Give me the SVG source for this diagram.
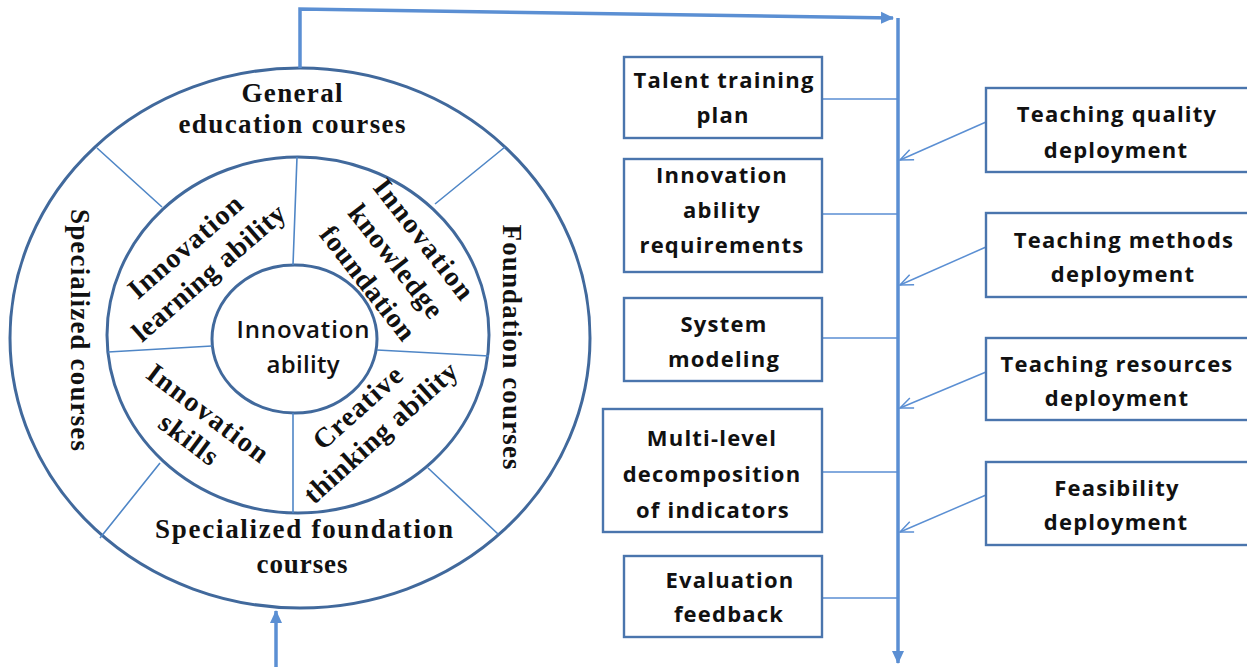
<svg xmlns="http://www.w3.org/2000/svg" width="1247" height="667" viewBox="0 0 1247 667">
<defs>
<style>
.ring{fill:none;stroke:#41699c;stroke-width:3}
.div{fill:none;stroke:#4f86c6;stroke-width:1.6}
.box{fill:#fff;stroke:#4a75ad;stroke-width:2.4}
.thick{fill:none;stroke:#5b8fd3;stroke-width:3.5}
.thin{fill:none;stroke:#5b8fd3;stroke-width:1.5}
.ser{font-family:"Liberation Serif","Times New Roman",serif;font-weight:bold;font-size:27px;fill:#111;text-anchor:middle}
.rot{font-size:28px}
.san{font-family:"Open Sans","Liberation Sans",sans-serif;font-weight:bold;font-size:22px;letter-spacing:1.2px;fill:#111;text-anchor:middle}
.ctr{font-family:"Open Sans","Liberation Sans",sans-serif;font-weight:600;font-size:24px;fill:#111;text-anchor:middle}
</style>
<marker id="fa" markerUnits="userSpaceOnUse" markerWidth="14" markerHeight="14" viewBox="0 0 14 14" refX="12" refY="7" orient="auto">
<path d="M0,1 L13,7 L0,13 Z" fill="#5b8fd3"/>
</marker>
<marker id="oa" markerUnits="userSpaceOnUse" markerWidth="16" markerHeight="14" viewBox="0 0 16 14" refX="14" refY="7" orient="auto">
<path d="M1,1.5 L14,7 L1,12.5" fill="none" stroke="#5b8fd3" stroke-width="1.5"/>
</marker>
</defs>
<rect width="1247" height="667" fill="#fff"/>

<g id="wheel">
<ellipse class="ring" cx="300" cy="338" rx="290" ry="270"/>
<ellipse class="ring" cx="298" cy="335" rx="191" ry="178"/>
<ellipse class="ring" cx="294.5" cy="339" rx="82.5" ry="74"/>
<path class="div" d="M97,148 L162,207 M505,147 L435,204 M100,538 L160,463 M498,534 L428,468 M297,157 L293,265 M293,413 L293,513 M108,352 L212,346 M377,350 L489,356"/>
</g>

<g id="ring-outer-labels">
<text class="ser" x="292" y="102" textLength="101" lengthAdjust="spacing">General</text>
<text class="ser" x="292" y="133" textLength="227" lengthAdjust="spacing">education courses</text>
<text class="ser" x="304" y="538" textLength="298" lengthAdjust="spacing">Specialized foundation</text>
<text class="ser" x="302" y="573" textLength="91" lengthAdjust="spacing">courses</text>
<text class="ser" dominant-baseline="central" transform="translate(80,330) rotate(90)" textLength="242" lengthAdjust="spacing">Specialized courses</text>
<text class="ser" dominant-baseline="central" transform="translate(512,347) rotate(90)" textLength="245" lengthAdjust="spacing">Foundation courses</text>
</g>

<g id="ring-middle-labels">
<text class="ser rot" dominant-baseline="central" transform="translate(185,246.5) rotate(-41)" textLength="142" lengthAdjust="spacing">Innovation</text>
<text class="ser rot" dominant-baseline="central" transform="translate(208.5,272.5) rotate(-41)" textLength="193" lengthAdjust="spacing">learning ability</text>
<text class="ser rot" dominant-baseline="central" transform="translate(424,239) rotate(52)" textLength="145" lengthAdjust="spacing">Innovation</text>
<text class="ser rot" dominant-baseline="central" transform="translate(396,261) rotate(52)" textLength="136" lengthAdjust="spacing">knowledge</text>
<text class="ser rot" dominant-baseline="central" transform="translate(368,283) rotate(52)" textLength="137" lengthAdjust="spacing">foundation</text>
<text class="ser rot" dominant-baseline="central" transform="translate(208,413) rotate(37)" textLength="145" lengthAdjust="spacing">Innovation</text>
<text class="ser rot" dominant-baseline="central" transform="translate(189,439) rotate(37)" textLength="67" lengthAdjust="spacing">skills</text>
<text class="ser rot" dominant-baseline="central" transform="translate(357.5,407.5) rotate(-42)" textLength="110" lengthAdjust="spacing">Creative</text>
<text class="ser rot" dominant-baseline="central" transform="translate(380.5,432.5) rotate(-42)" textLength="196" lengthAdjust="spacing">thinking ability</text>
</g>

<g id="core">
<text class="ctr" x="303" y="338" textLength="133" lengthAdjust="spacing">Innovation</text>
<text class="ctr" x="303" y="373" textLength="73" lengthAdjust="spacing">ability</text>
</g>

<g id="connectors">
<path class="thick" d="M300,68 L300,9 L893,18" marker-end="url(#fa)"/>
<path class="thick" d="M898,18 L898,663" marker-end="url(#fa)"/>
<path class="thick" d="M276,667 L276,611" marker-end="url(#fa)"/>
<path class="thin" d="M822,99 H898 M822,214 H898 M822,338 H898 M822,472 H898 M822,598 H898"/>
<path class="thin" d="M986,122 L900,160" marker-end="url(#oa)"/>
<path class="thin" d="M986,247 L900,285" marker-end="url(#oa)"/>
<path class="thin" d="M986,372 L900,408" marker-end="url(#oa)"/>
<path class="thin" d="M986,495 L900,532" marker-end="url(#oa)"/>
</g>

<g id="talent-training-plan">
<rect class="box" x="624" y="57" width="198" height="81"/>
<text class="san" x="724" y="88">Talent training</text>
<text class="san" x="723" y="123">plan</text>
</g>
<g id="innovation-ability-requirements">
<rect class="box" x="624" y="159" width="198" height="113"/>
<text class="san" x="722" y="183">Innovation</text>
<text class="san" x="722" y="218">ability</text>
<text class="san" x="722" y="253">requirements</text>
</g>
<g id="system-modeling">
<rect class="box" x="624" y="298" width="198" height="83"/>
<text class="san" x="724" y="332">System</text>
<text class="san" x="724" y="367">modeling</text>
</g>
<g id="multi-level-decomposition">
<rect class="box" x="603" y="409" width="219" height="123"/>
<text class="san" x="712" y="446">Multi-level</text>
<text class="san" x="712" y="482">decomposition</text>
<text class="san" x="713" y="518">of indicators</text>
</g>
<g id="evaluation-feedback">
<rect class="box" x="624" y="556" width="198" height="81"/>
<text class="san" x="730" y="588">Evaluation</text>
<text class="san" x="729" y="622">feedback</text>
</g>

<g id="teaching-quality">
<rect class="box" x="986" y="88" width="270" height="84"/>
<text class="san" x="1117" y="122">Teaching quality</text>
<text class="san" x="1116" y="158">deployment</text>
</g>
<g id="teaching-methods">
<rect class="box" x="986" y="213" width="270" height="84"/>
<text class="san" x="1124" y="248">Teaching methods</text>
<text class="san" x="1123" y="282">deployment</text>
</g>
<g id="teaching-resources">
<rect class="box" x="986" y="338" width="270" height="82"/>
<text class="san" x="1117" y="372">Teaching resources</text>
<text class="san" x="1117" y="406">deployment</text>
</g>
<g id="feasibility">
<rect class="box" x="986" y="462" width="270" height="83"/>
<text class="san" x="1117" y="496">Feasibility</text>
<text class="san" x="1116" y="530">deployment</text>
</g>
</svg>
